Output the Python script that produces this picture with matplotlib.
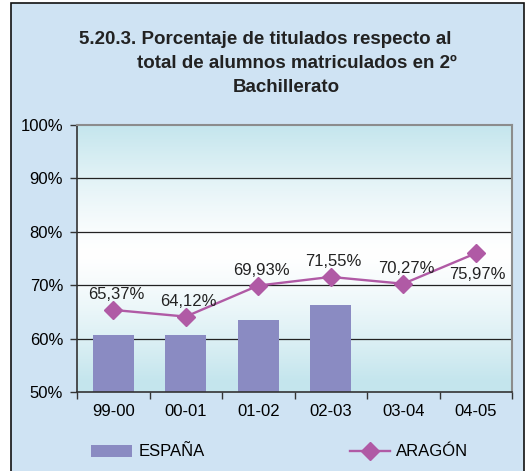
import numpy as np
import matplotlib.pyplot as plt
from matplotlib.patches import Rectangle
from matplotlib.ticker import FuncFormatter

plt.rcParams['font.family'] = ['Liberation Sans', 'DejaVu Sans']

cursos = ['99-00', '00-01', '01-02', '02-03', '03-04', '04-05']
espana = [60.6, 60.6, 63.4, 66.2, None, None]
aragon = [65.37, 64.12, 69.93, 71.55, 70.27, 75.97]
etiquetas = ['65,37%', '64,12%', '69,93%', '71,55%', '70,27%', '75,97%']

fig = plt.figure(figsize=(5.27, 4.71), dpi=100, facecolor='white')

# marco exterior con fondo azul claro
fig.patches.append(Rectangle((10.5 / 527, -0.01), 513.5 / 527, 1 - 3 / 471 + 0.01,
                             transform=fig.transFigure, facecolor='#cfe3f3',
                             edgecolor='#111111', linewidth=1.2, zorder=-5))

ax = fig.add_axes([77 / 527, 1 - 392 / 471, 435 / 527, 267 / 471])
x = np.arange(len(cursos))

# degradado del área de trazado
t = np.linspace(0, 1, 256)
c0 = np.array([0.77, 0.90, 0.93])
w = np.clip(np.abs(t - 0.52) / 0.48, 0, 1) ** 1.3
grad = (1 - w)[:, None] * np.array([1, 1, 1]) + w[:, None] * c0
ax.imshow(grad[:, None, :], extent=[-0.5, 5.5, 50, 100], aspect='auto',
          origin='lower', zorder=0)

for y in [60, 70, 80, 90]:
    ax.axhline(y, color='#222222', linewidth=0.9, zorder=1)

xb = [i for i, v in enumerate(espana) if v is not None]
yb = [v for v in espana if v is not None]
barras = ax.bar(xb, yb, width=0.56, bottom=0, color='#8a8bc2', zorder=2, label='ESPAÑA')
linea, = ax.plot(x, aragon, color='#b05aa5', linewidth=1.7, marker='D', markersize=9,
                 zorder=3, label='ARAGÓN')

for i, (v, s) in enumerate(zip(aragon, etiquetas)):
    if i == len(aragon) - 1:
        ax.annotate(s, (i, v), xytext=(1, -15), textcoords='offset points',
                    ha='center', va='center', fontsize=12, color='#222222')
    else:
        ax.annotate(s, (i, v), xytext=(2, 11), textcoords='offset points',
                    ha='center', va='center', fontsize=12, color='#222222')

ax.set_xlim(-0.5, 5.5)
ax.set_ylim(50, 100)
ax.set_yticks(range(50, 101, 10))
ax.yaxis.set_major_formatter(FuncFormatter(lambda v, p: f'{v:.0f}%'))
ax.set_xticks(x)
ax.set_xticklabels(cursos)
ax.set_xticks(np.arange(-0.5, 6, 1), minor=True)
ax.tick_params(axis='x', which='major', length=0, pad=9, labelsize=12)
ax.tick_params(axis='x', which='minor', length=5, width=1, color='#333333')
ax.tick_params(axis='y', length=5, width=1, color='#333333', pad=5, labelsize=12)
for side in ['left', 'bottom']:
    ax.spines[side].set_color('#333333')
    ax.spines[side].set_linewidth(1.2)
for side in ['top', 'right']:
    ax.spines[side].set_color('#8c8c8c')
    ax.spines[side].set_linewidth(1.5)

# título en tres líneas
fig.text(79 / 527, 1 - 40 / 471, '5.20.3. Porcentaje de titulados respecto al',
         fontsize=13.5, fontweight='bold', ha='left', va='center', color='#222222')
fig.text(137 / 527, 1 - 64 / 471, 'total de alumnos matriculados en 2º',
         fontsize=13.5, fontweight='bold', ha='left', va='center', color='#222222')
fig.text(286 / 527, 1 - 87 / 471, 'Bachillerato',
         fontsize=13.5, fontweight='bold', ha='center', va='center', color='#222222')

fig.legend([barras, linea], ['ESPAÑA', 'ARAGÓN'], loc='center',
           bbox_to_anchor=(280 / 527, 1 - 452 / 471), ncol=2,
           frameon=False, fontsize=12, handlelength=2.45, columnspacing=8.7,
           handletextpad=0.36)

fig.savefig('out.png', dpi=100)
